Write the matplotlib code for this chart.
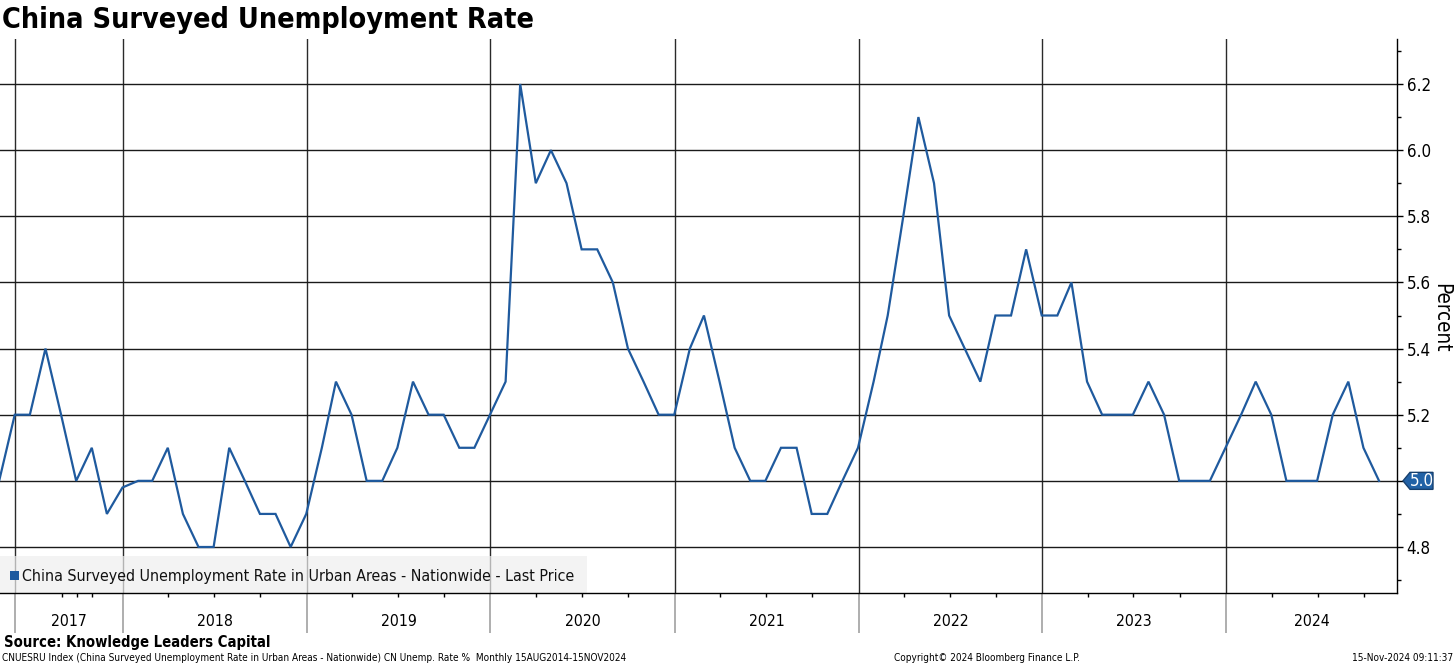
import numpy as np
import pandas as pd
import matplotlib
matplotlib.use("Agg")
import matplotlib.pyplot as plt
import matplotlib.dates as mdates
import matplotlib.transforms as mtrans
from matplotlib.patches import Polygon, Rectangle
from matplotlib import font_manager as fm

# ---------------- data ----------------
start_month = "2017-04"
values = [
    # 2017 Apr-Dec
    5.0, 5.2, 5.2, 5.4, 5.2, 5.0, 5.1, 4.9, 4.98,
    # 2018
    5.0, 5.0, 5.1, 4.9, 4.8, 4.8, 5.1, 5.0, 4.9, 4.9, 4.8, 4.9,
    # 2019
    5.1, 5.3, 5.2, 5.0, 5.0, 5.1, 5.3, 5.2, 5.2, 5.1, 5.1, 5.2,
    # 2020
    5.3, 6.2, 5.9, 6.0, 5.9, 5.7, 5.7, 5.6, 5.4, 5.3, 5.2, 5.2,
    # 2021
    5.4, 5.5, 5.3, 5.1, 5.0, 5.0, 5.1, 5.1, 4.9, 4.9, 5.0, 5.1,
    # 2022
    5.3, 5.5, 5.8, 6.1, 5.9, 5.5, 5.4, 5.3, 5.5, 5.5, 5.7, 5.5,
    # 2023
    5.5, 5.6, 5.3, 5.2, 5.2, 5.2, 5.3, 5.2, 5.0, 5.0, 5.0, 5.1,
    # 2024 Jan-Oct
    5.2, 5.3, 5.2, 5.0, 5.0, 5.0, 5.2, 5.3, 5.1, 5.0,
]
years = [2017, 2018, 2019, 2020, 2021, 2022, 2023, 2024]
first_boundary = "2017-06-01"
yticks = [4.8, 5.0, 5.2, 5.4, 5.6, 5.8, 6.0, 6.2]
ytick_labels = ["4.8", "5.0", "5.2", "5.4", "5.6", "5.8", "6.0", "6.2"]

title = "China Surveyed Unemployment Rate"
legend_label = "China Surveyed Unemployment Rate in Urban Areas - Nationwide - Last Price"
ylabel = "Percent"
source = "Source: Knowledge Leaders Capital"
footer_left = ("CNUESRU Index (China Surveyed Unemployment Rate in Urban Areas - Nationwide) "
               "CN Unemp. Rate %  Monthly 15AUG2014-15NOV2024")
footer_mid = "Copyright\u00a9 2024 Bloomberg Finance L.P."
footer_right = "15-Nov-2024 09:11:37"

# month-end dates
dates = pd.date_range(pd.Timestamp(start_month + "-01") + pd.DateOffset(months=1),
                      periods=len(values), freq="MS") - pd.Timedelta(days=1)

# ---------------- fonts ----------------
FAM = "DejaVu Sans"
STRETCH = "normal"
try:
    p = fm.findfont(fm.FontProperties(family="DejaVu Sans", stretch="condensed"),
                    fallback_to_default=False)
    if "condensed" in p.lower():
        STRETCH = "condensed"
except Exception:
    pass

W, H = 1456, 666
DPI = 100
fig = plt.figure(figsize=(W / DPI, H / DPI), dpi=DPI)
fig.patch.set_facecolor("white")

# axes in pixel layout
ax_l, ax_r, ax_t, ax_b = 0, 1397, 39, 593
ax = fig.add_axes([ax_l / W, (H - ax_b) / H, (ax_r - ax_l) / W, (ax_b - ax_t) / H])
ax.set_facecolor("white")

BLUE = "#1f5a9e"
ax.plot(dates, values, color=BLUE, lw=1.6, zorder=4, solid_joinstyle="miter")

# limits from pixel geometry
jan2018 = mdates.date2num(pd.Timestamp("2018-01-01"))
jan2024 = mdates.date2num(pd.Timestamp("2024-01-01"))
ppd = (1226 - 123) / (jan2024 - jan2018)
xl = jan2018 - (123 - ax_l) / ppd
xr = jan2024 + (ax_r - 1226) / ppd
ax.set_xlim(xl, xr)
ppu = (547 - 84) / 1.4
ax.set_ylim(4.8 - (ax_b - 547) / ppu, 6.2 + (84 - ax_t) / ppu)

renderer = fig.canvas.get_renderer()


def fit_size(text, target_px, weight="normal"):
    t = fig.text(0, 0, text, fontsize=10, family=FAM, fontstretch=STRETCH, weight=weight)
    w = t.get_window_extent(renderer).width
    t.remove()
    return 10 * target_px / w


tick_fs = fit_size("6.2", 24)
year_fs = fit_size("2024", 36)

# y axis on right
ax.yaxis.tick_right()
ax.set_yticks(yticks)
ax.set_yticklabels(ytick_labels)
ax.set_yticks(np.arange(4.7, 6.35, 0.1), minor=True)
ax.tick_params(axis="y", which="major", length=4, width=1, pad=3, labelsize=tick_fs,
               direction="out", colors="black")
ax.tick_params(axis="y", which="minor", length=3, width=1, direction="out")
last = values[-1]
for lab, v in zip(ax.get_yticklabels(), yticks):
    lab.set_family(FAM)
    lab.set_fontstretch(STRETCH)
    if abs(v - last) < 1e-9:
        lab.set_visible(False)

# x axis: year boundaries as major ticks (long gray), quarters as minor
bounds = [pd.Timestamp(first_boundary)] + [pd.Timestamp(f"{y}-01-01") for y in years[1:]]
bnum = [mdates.date2num(b) for b in bounds]
ax.set_xticks(bnum)
ax.set_xticklabels([""] * len(bnum))
minor = [pd.Timestamp("2017-09-01"), pd.Timestamp("2017-10-01"), pd.Timestamp("2017-11-01")]
for y in years[1:]:
    for m in (4, 7, 10):
        minor.append(pd.Timestamp(f"{y}-{m:02d}-01"))
ax.set_xticks([mdates.date2num(m) for m in minor if mdates.date2num(m) < xr], minor=True)
ax.tick_params(axis="x", which="major", length=40 * 72 / DPI, width=1.3, color="#a8a8a8",
               direction="out")
ax.tick_params(axis="x", which="minor", length=4 * 72 / DPI, width=1, color="black",
               direction="out")

ax.grid(axis="y", which="major", color="#1a1a1a", lw=1.0, zorder=1)
ax.grid(axis="x", which="major", color="#2a2a2a", lw=1.0, zorder=1)
ax.set_axisbelow(True)

for s in ("top", "left"):
    ax.spines[s].set_visible(False)
for s in ("bottom", "right"):
    ax.spines[s].set_color("black")
    ax.spines[s].set_linewidth(1.0)
    ax.spines[s].set_zorder(5)

# year labels centred in each year's span
edges = bnum + [xr]
xt = ax.get_xaxis_transform()
yfrac = (ax_b - 622) / (ax_b - ax_t)
for i, y in enumerate(years):
    c = 0.5 * (edges[i] + edges[i + 1])
    ax.text(c, yfrac, str(y), transform=xt, ha="center", va="center", fontsize=year_fs,
            family=FAM, fontstretch=STRETCH, color="black", clip_on=False)

# legend box (manual, bottom-left)
px2ax_x = lambda px: (px - ax_l) / (ax_r - ax_l)
px2ax_y = lambda py: (ax_b - py) / (ax_b - ax_t)
ax.add_patch(Rectangle((px2ax_x(0), px2ax_y(593)), px2ax_x(587), px2ax_y(556) - px2ax_y(593),
                       transform=ax.transAxes, facecolor="#eeeeee", edgecolor="none",
                       alpha=0.7, zorder=2.5))
ax.add_patch(Rectangle((px2ax_x(10), px2ax_y(580)), px2ax_x(19) - px2ax_x(10),
                       px2ax_y(571) - px2ax_y(580), transform=ax.transAxes,
                       facecolor=BLUE, edgecolor="none", zorder=3))
leg_fs = fit_size(legend_label, 556)
ax.text(px2ax_x(22), px2ax_y(576), legend_label, transform=ax.transAxes, ha="left",
        va="center", fontsize=leg_fs, family=FAM, fontstretch=STRETCH, color="#111111",
        zorder=3)

# last value tag
ay = ax.transData.transform((xr, last))[1]
axp = ax.transData.transform((xr, last))[0]
tip = axp + 6
hh = 8.5
verts = [(tip, ay), (tip + 7, ay + hh), (tip + 30, ay + hh), (tip + 30, ay - hh),
         (tip + 7, ay - hh)]
tag = Polygon(verts, closed=True, facecolor="#2262a6", edgecolor="#17406e", lw=1,
              transform=mtrans.IdentityTransform(), zorder=10, clip_on=False)
fig.patches.append(tag)
fig.text((tip + 18.5) / W, ay / H, f"{last:.1f}", ha="center", va="center", color="white",
         fontsize=tick_fs, family=FAM, fontstretch=STRETCH, zorder=11)

# y label
pfs = fit_size(ylabel, 70)
fig.text(1441 / W, (H - 318) / H, ylabel, rotation=270, ha="center", va="center",
         fontsize=pfs, family=FAM, fontstretch=STRETCH)

# title and footers
tfs = fit_size(title, 529, weight="bold")
fig.text(2 / W, (H - 28) / H, title, ha="left", va="baseline", fontsize=tfs,
         weight="bold", family=FAM, fontstretch=STRETCH)
sfs = fit_size(source, 265, weight="bold")
fig.text(4 / W, (H - 643) / H, source, ha="left", va="center", fontsize=sfs,
         weight="bold", family=FAM, fontstretch=STRETCH)
f1 = fit_size(footer_left, 621)
fig.text(2 / W, (H - 658) / H, footer_left, ha="left", va="center", fontsize=f1,
         family=FAM, fontstretch=STRETCH)
f2 = fit_size(footer_mid, 185)
fig.text(894 / W, (H - 658) / H, footer_mid, ha="left", va="center", fontsize=f2,
         family=FAM, fontstretch=STRETCH)
f3 = fit_size(footer_right, 101)
fig.text(1453 / W, (H - 658) / H, footer_right, ha="right", va="center", fontsize=f3,
         family=FAM, fontstretch=STRETCH)

fig.savefig("out.png", dpi=DPI, facecolor="white")
